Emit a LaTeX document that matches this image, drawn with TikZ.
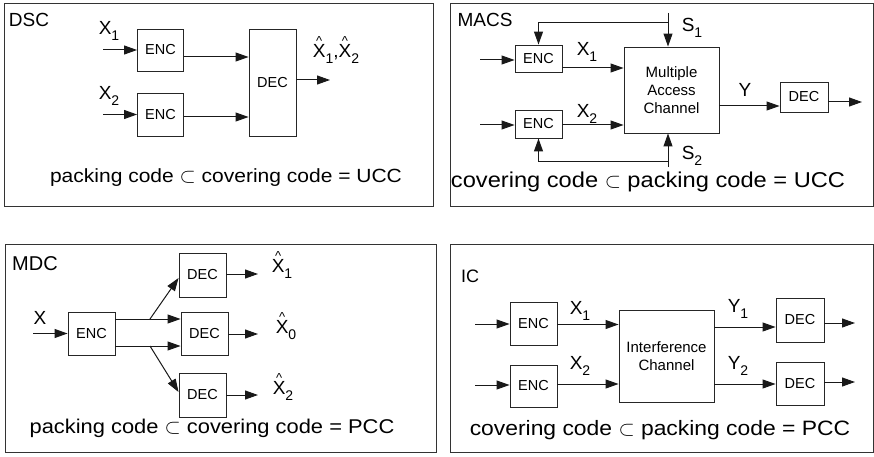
\documentclass[tikz,border=0pt]{standalone}
\usepackage{fontspec}
\setmainfont{Liberation Sans}
\newfontfamily\wfont{Liberation Sans}[FakeStretch=1.1]
\usetikzlibrary{arrows.meta,calc}
\newcommand\myfs[1]{\fontsize{#1}{#1}\selectfont}
\newcommand\subx[1]{\raisebox{-6pt}{\myfs{14}#1}}
\newcommand\hatx[1]{\setbox0=\hbox{X}\makebox[\wd0][c]{\raisebox{0.95\ht0}{\smash{\myfs{13}\textasciicircum}}}\kern-\wd0 X\subx{#1}}
\begin{document}
\begin{tikzpicture}[x=1pt,y=-1pt,
  box/.style={draw=black!85, line width=0.9pt, inner sep=0pt, font=\myfs{14.5}},
  panel/.style={draw=black!80, line width=1pt},
  arr/.style={draw=black!90, line width=1pt, -{Triangle[length=13pt,width=9pt]}},
  ln/.style={draw=black!90, line width=1pt},
  lbl/.style={inner sep=0pt, font=\myfs{19}},
  ttl/.style={inner sep=0pt, font=\myfs{19}},
  btm/.style={inner sep=0pt}]
\useasboundingbox (0,0) rectangle (874,457);
% panels
\draw[panel] (4,4) rectangle (433,206);
\draw[panel] (450,4) rectangle (873,206);
\draw[panel] (5,244) rectangle (436,452);
\draw[panel] (450,244) rectangle (873,452);

% ---------------- DSC ----------------
\node[ttl] (t1) at (29,20) {DSC};
\node[box, minimum width=46pt, minimum height=42pt] (aenc1) at (160.5,50) {ENC};
\node[box, minimum width=46pt, minimum height=43pt] (aenc2) at (160.5,114.5) {ENC};
\node[box, minimum width=47pt, minimum height=107pt] (adec) at (272.5,82.5) {DEC};
\coordinate (ai1) at (103,50);
\coordinate (ai2) at (103,114.5);
\draw[arr] (ai1) -- (aenc1.west);
\draw[arr] (ai2) -- (aenc2.west);
\coordinate (ao1) at ($(aenc1.east)+(0,7)$);
\coordinate (ao2) at ($(aenc2.east)+(0,2.5)$);
\draw[arr] (ao1) -- (ao1 -| adec.west);
\draw[arr] (ao2) -- (ao2 -| adec.west);
\coordinate (ad) at ($(adec.east)+(0,-2.5)$);
\coordinate (aout) at (330,80);
\draw[arr] (ad) -- (aout);
\node[lbl] (ax1) at (109,31) {X\subx{1}};
\node[lbl] (ax2) at (109,96) {X\subx{2}};
\node[lbl] (axh) at (336,54) {\hatx{1},\hatx{2}};
\node[btm, font=\wfont\myfs{19.1}] (ab) at (226,178) {packing code $\subset$ covering code = UCC};

% ---------------- MACS ----------------
\node[ttl] (t2) at (485,20) {MACS};
\node[box, minimum width=47pt, minimum height=27pt] (benc1) at (538.5,58.5) {ENC};
\node[box, minimum width=47pt, minimum height=28pt] (benc2) at (538.5,124) {ENC};
\node[box, minimum width=95pt, minimum height=86pt, align=center, font=\fontsize{15}{18}\selectfont] (bmac) at (671.5,90) {Multiple\\Access\\Channel};
\node[box, minimum width=48pt, minimum height=30pt] (bdec) at (804,97) {DEC};
\coordinate (bi1) at (480,60);
\coordinate (bi2) at (480,125);
\draw[arr] (bi1) -- (bi1 -| benc1.west);
\draw[arr] (bi2) -- (bi2 -| benc2.west);
\coordinate (bo1) at ($(benc1.east)+(0,9.5)$);
\coordinate (bo2) at ($(benc2.east)+(0,1)$);
\draw[arr] (bo1) -- (bo1 -| bmac.west);
\draw[arr] (bo2) -- (bo2 -| bmac.west);
\coordinate (bs1) at (668,13);
\coordinate (bj1) at (668,23);
\coordinate (bs2) at (668,167);
\coordinate (bj2) at (668,162);
\draw[arr] (bs1) -- (bs1 |- bmac.north);
\draw[arr] (bj1) -| (benc1.north);
\draw[arr] (bs2) -- (bs2 |- bmac.south);
\draw[arr] (bj2) -| (benc2.south);
\coordinate (bm) at ($(bmac.east)+(0,16)$);
\draw[arr] (bm) -- (bm -| bdec.west);
\coordinate (bd) at ($(bdec.east)+(0,5)$);
\coordinate (bout) at (862,102);
\draw[arr] (bd) -- (bout);
\node[lbl] (bx1) at (587,52) {X\subx{1}};
\node[lbl] (bx2) at (587,114) {X\subx{2}};
\node[lbl] (bsl1) at (692,28) {S\subx{1}};
\node[lbl] (bsl2) at (692,156) {S\subx{2}};
\node[lbl] (by) at (745,90) {Y};
\node[btm, font=\wfont\myfs{21.5}] (bb) at (648,182) {covering code $\subset$ packing code = UCC};

% ---------------- MDC ----------------
\node[ttl, font=\myfs{20}] (t3) at (35,264) {MDC};
\node[box, minimum width=47pt, minimum height=43pt] (cenc) at (91.5,333.5) {ENC};
\node[box, minimum width=47pt, minimum height=44pt] (cdec1) at (202.5,275) {DEC};
\node[box, minimum width=47pt, minimum height=43pt] (cdec0) at (204.5,333.5) {DEC};
\node[box, minimum width=47pt, minimum height=44pt] (cdec2) at (202.5,395) {DEC};
\coordinate (ci) at (33,333.5);
\draw[arr] (ci) -- (cenc.west);
\coordinate (co1) at ($(cenc.east)+(0,-14.5)$);
\coordinate (co2) at ($(cenc.east)+(0,12.5)$);
\draw[arr] (co1) -- (co1 -| cdec0.west);
\draw[arr] (co2) -- (co2 -| cdec0.west);
\coordinate (cb1) at (150,319);
\coordinate (cb2) at (150,346);
\draw[arr] (cb1) -- ($(cdec1.west)+(0,3)$);
\draw[arr] (cb2) -- ($(cdec2.west)+(0,-3)$);
\coordinate (cq1) at (258,274);
\coordinate (cq0) at (258,334);
\coordinate (cq2) at (258,395);
\draw[arr] (cdec1.east |- cq1) -- (cq1);
\draw[arr] (cdec0.east |- cq0) -- (cq0);
\draw[arr] (cdec2.east |- cq2) -- (cq2);
\node[lbl] (cx) at (40,318) {X};
\node[lbl] (cxh1) at (282,269) {\hatx{1}};
\node[lbl] (cxh0) at (286,330) {\hatx{0}};
\node[lbl] (cxh2) at (283,391) {\hatx{2}};
\node[btm, font=\wfont\myfs{19.9}] (cbt) at (212,428) {packing code $\subset$ covering code = PCC};

% ---------------- IC ----------------
\node[ttl, font=\myfs{18}] (t4) at (470,276) {IC};
\node[box, minimum width=47pt, minimum height=43pt] (denc1) at (533.5,323.5) {ENC};
\node[box, minimum width=47pt, minimum height=42pt] (denc2) at (533.5,386) {ENC};
\node[box, minimum width=95pt, minimum height=92pt, align=center, font=\fontsize{15}{18}\selectfont] (dch) at (666.5,356) {Interference\\Channel};
\node[box, minimum width=48pt, minimum height=44pt] (ddec1) at (800,320) {DEC};
\node[box, minimum width=48pt, minimum height=43pt] (ddec2) at (800,383.5) {DEC};
\coordinate (di1) at (475,324);
\coordinate (di2) at (475,385);
\draw[arr] (di1) -- (di1 -| denc1.west);
\draw[arr] (di2) -- (di2 -| denc2.west);
\coordinate (do1) at ($(denc1.east)+(0,1)$);
\coordinate (do2) at ($(denc2.east)+(0,-2)$);
\draw[arr] (do1) -- (do1 -| dch.west);
\draw[arr] (do2) -- (do2 -| dch.west);
\coordinate (dy1) at ($(dch.east)+(0,-29)$);
\coordinate (dy2) at ($(dch.east)+(0,28)$);
\draw[arr] (dy1) -- (dy1 -| ddec1.west);
\draw[arr] (dy2) -- (dy2 -| ddec2.west);
\coordinate (dq1) at (855,323);
\coordinate (dq2) at (855,382);
\draw[arr] (ddec1.east |- dq1) -- (dq1);
\draw[arr] (ddec2.east |- dq2) -- (dq2);
\node[lbl] (dx1) at (580,311) {X\subx{1}};
\node[lbl] (dx2) at (580,366) {X\subx{2}};
\node[lbl] (dyl1) at (738,309) {Y\subx{1}};
\node[lbl] (dyl2) at (738,366) {Y\subx{2}};
\node[btm, font=\wfont\myfs{20.8}] (dbt) at (660,430) {covering code $\subset$ packing code = PCC};
\end{tikzpicture}
\end{document}
